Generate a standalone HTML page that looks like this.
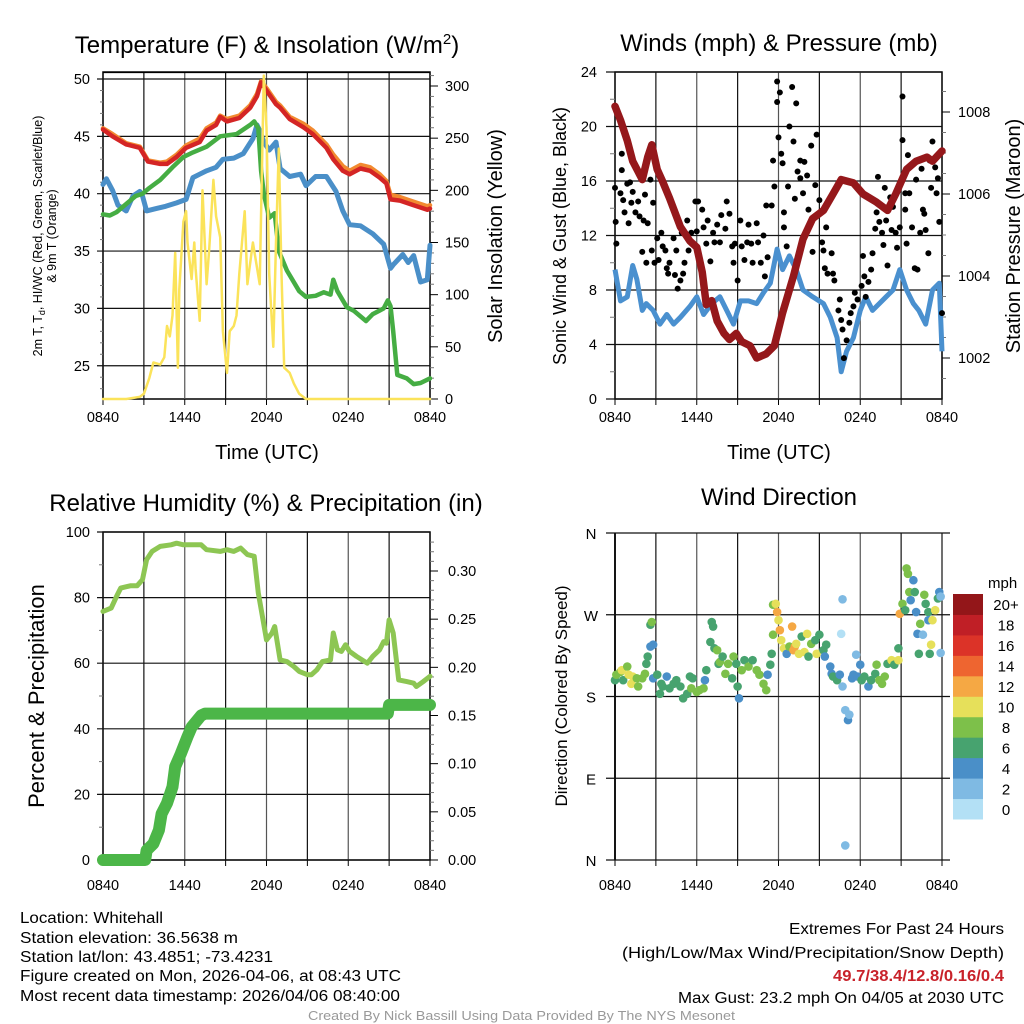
<!DOCTYPE html>
<html><head><meta charset="utf-8"><style>
html,body{margin:0;padding:0;background:#fff;}
svg{display:block;font-family:"Liberation Sans",sans-serif;}
</style></head><body>
<svg id="root" width="1024" height="1024" viewBox="0 0 1024 1024">
<rect width="1024" height="1024" fill="#fff"/>
<g id="p1"></g>
<g id="p2"></g>
<g id="p3"></g>
<g id="p4"></g>
<text x="267" y="53" font-size="24" text-anchor="middle">Temperature (F) &amp; Insolation (W/m<tspan font-size="15" dy="-9">2</tspan><tspan dy="9">)</tspan></text>
<text x="779" y="51" font-size="24" text-anchor="middle">Winds (mph) &amp; Pressure (mb)</text>
<text x="266" y="511" font-size="24" text-anchor="middle">Relative Humidity (%) &amp; Precipitation (in)</text>
<text x="779" y="505" font-size="24" text-anchor="middle">Wind Direction</text>
<text transform="translate(42,236) rotate(-90)" font-size="12.5" text-anchor="middle">2m T, T<tspan font-size="9" dy="3">d</tspan><tspan dy="-3">, HI/WC (Red, Green, Scarlet/Blue)</tspan></text>
<text transform="translate(56,236) rotate(-90)" font-size="12.5" text-anchor="middle">&amp; 9m T (Orange)</text>
<text transform="translate(502,236) rotate(-90)" font-size="20" text-anchor="middle">Solar Insolation (Yellow)</text>
<text x="267" y="459" font-size="20" text-anchor="middle">Time (UTC)</text>
<text transform="translate(566,236) rotate(-90)" font-size="18" text-anchor="middle">Sonic Wind &amp; Gust (Blue, Black)</text>
<text transform="translate(1020,236) rotate(-90)" font-size="20" text-anchor="middle">Station Pressure (Maroon)</text>
<text x="779" y="459" font-size="20" text-anchor="middle">Time (UTC)</text>
<text transform="translate(44,696) rotate(-90)" font-size="22" text-anchor="middle">Percent &amp; Precipitation</text>
<text transform="translate(567,696) rotate(-90)" font-size="17" text-anchor="middle">Direction (Colored By Speed)</text>
<text x="988" y="588" font-size="15" text-anchor="start">mph</text>
<g font-size="15.5">
<text x="20" y="923" textLength="143" lengthAdjust="spacingAndGlyphs">Location: Whitehall</text>
<text x="20" y="943" textLength="218" lengthAdjust="spacingAndGlyphs">Station elevation: 36.5638 m</text>
<text x="20" y="962" textLength="253" lengthAdjust="spacingAndGlyphs">Station lat/lon: 43.4851; -73.4231</text>
<text x="20" y="981" textLength="381" lengthAdjust="spacingAndGlyphs">Figure created on Mon, 2026-04-06, at 08:43 UTC</text>
<text x="20" y="1001" textLength="380" lengthAdjust="spacingAndGlyphs">Most recent data timestamp: 2026/04/06 08:40:00</text>
</g>
<g font-size="15.5">
<text x="789" y="934" textLength="215" lengthAdjust="spacingAndGlyphs">Extremes For Past 24 Hours</text>
<text x="622" y="958" textLength="382" lengthAdjust="spacingAndGlyphs">(High/Low/Max Wind/Precipitation/Snow Depth)</text>
<text x="833" y="981" textLength="171" lengthAdjust="spacingAndGlyphs" font-weight="bold" fill="#c8222a">49.7/38.4/12.8/0.16/0.4</text>
<text x="678" y="1003" textLength="326" lengthAdjust="spacingAndGlyphs">Max Gust: 23.2 mph On 04/05 at 2030 UTC</text>
</g>
<text x="308" y="1020" font-size="13" fill="#999" textLength="427" lengthAdjust="spacingAndGlyphs">Created By Nick Bassill Using Data Provided By The NYS Mesonet</text>
</svg>
<script>
// ---------- data ----------
const timeTicks = ["0840","1440","2040","0240","0840"];
const tempTicks = [25,30,35,40,45,50];
const insolTicks = [0,50,100,150,200,250,300];
const windTicks = [0,4,8,12,16,20,24];
const presTicks = [1002,1004,1006,1008];
const rhTicks = [0,20,40,60,80,100];
const precipTicks = [0,0.05,0.10,0.15,0.20,0.25,0.30];
const dirTicks = ["N","E","S","W","N"];
const dirTickVals = [0,90,180,270,360];
const speedBins = ["0","2","4","6","8","10","12","14","16","18","20+"];

const tempHours = [0,0.7,1.7,2.7,3.3,4.2,4.7,5.4,6.1,7.1,7.6,8.3,8.6,9.1,10,10.8,11.3,11.6,12,12.7,13,13.7,14.7,15.4,16.4,16.9,17.6,18.1,18.9,19.6,20.3,20.8,21.1,21.8,22.8,23.8,24];
const tempRed = [45.6,45.0,44.3,44.0,42.8,42.6,42.6,43.2,44.0,44.5,45.5,46.0,46.7,46.3,46.6,47.5,48.5,49.7,49.0,47.8,47.5,46.5,45.8,45.2,44.0,43.0,42.0,41.7,42.2,42.0,41.4,40.9,39.5,39.4,39.0,38.6,38.7];
const tempOrange = [45.7,45.2,44.4,44.1,42.9,42.7,42.8,43.4,44.2,44.8,45.7,46.2,46.8,46.5,46.8,47.7,48.7,49.8,49.2,48.0,47.7,46.7,46.1,45.5,44.3,43.4,42.4,42.0,42.5,42.3,41.7,41.1,39.9,39.7,39.3,38.9,39.0];
const dewHours = [0,0.5,1,2.4,2.9,3.4,4.2,5.1,5.9,6.6,7.6,8.6,9.8,10.8,11.1,11.4,11.6,11.8,12.2,12.6,12.9,13.5,14.4,14.9,15.6,16.2,16.7,16.9,17.2,17.9,18.4,18.9,19.3,19.8,20.6,20.9,21.1,21.3,21.6,22.3,22.8,23.3,24];
const dewGreen = [38.2,38.1,38.4,39.8,40.0,40.5,41.2,42.3,43.2,43.6,44.1,45.0,45.2,46.0,46.3,45.7,42.0,40.0,37.9,38.3,35.0,33.3,31.5,31.0,31.1,31.4,31.2,32.5,31.5,30.1,29.8,29.3,28.9,29.5,30.0,30.7,30.2,28.0,24.2,23.9,23.4,23.5,23.9];
const chillHours = [0,0.25,0.7,1.1,1.7,2.2,2.7,2.9,3.2,3.9,4.6,5.4,6.1,6.6,7.1,7.6,8.3,8.8,9.6,10.3,11,11.3,11.5,11.8,12.2,12.7,13,13.7,14.5,14.9,15.6,16.4,17.1,17.6,18.1,18.9,19.8,20.6,21.1,21.3,22,22.4,22.8,23.3,23.8,24];
const chillBlue = [40.8,41.3,40.3,39.0,38.5,39.8,40.2,39.8,38.5,38.7,38.9,39.2,39.5,41.4,41.7,42.0,42.3,43.0,43.1,43.5,44.8,46.0,45.5,44.5,43.8,44.5,42.2,41.5,41.7,40.7,41.5,41.5,40.2,38.5,37.3,37.2,36.5,35.6,33.5,33.8,34.7,34.0,34.6,32.3,32.5,35.5];
const insolHours = [0,1.7,2.7,3,3.4,3.7,4.2,4.5,4.7,4.9,5.1,5.3,5.5,5.6,5.9,6.1,6.2,6.5,6.7,6.8,7.1,7.3,7.6,7.8,8.1,8.3,8.6,8.8,9.1,9.3,9.6,9.8,10,10.4,10.6,11,11.5,11.8,12,12.2,12.5,12.7,12.9,13.1,13.3,13.7,14,14.4,14.9,24];
const insolYellow = [0,0,2,5,20,35,33,40,70,60,80,140,30,105,170,180,150,115,150,125,75,200,110,145,210,175,155,65,25,65,70,80,120,180,110,150,110,310,260,120,50,150,240,120,30,25,15,5,0,0];

const windHours = [0,0.4,0.9,1.3,1.6,2,2.3,2.8,3.3,3.8,4.3,4.8,5.5,6,6.5,7.1,7.7,8.2,8.7,9.2,9.8,10.4,10.9,11.4,11.9,12.3,12.8,13.3,13.8,14.5,15.3,15.8,16.3,16.6,17,17.5,18,18.4,18.9,19.4,19.9,20.4,20.9,21.4,21.9,22.3,22.8,23.3,23.8,24];
const windBlue = [9.5,7.2,7.5,9.8,8.8,6.5,7.0,6.5,5.5,6.2,5.5,6.0,6.8,7.5,6.2,7.0,7.5,6.5,5.5,7.2,7.2,7.0,7.8,8.5,11.0,9.5,10.5,9.5,8.0,7.5,7.0,6.0,4.5,2.0,3.5,4.5,6.5,7.5,6.5,7.0,7.5,8.0,9.5,8.0,7.0,6.5,5.5,8.0,8.5,3.5];
const presHours = [0,0.4,0.9,1.3,2,2.4,2.7,3.1,3.5,4,4.8,5.5,6,6.4,6.7,7.1,7.5,8,8.4,8.9,9.3,9.9,10.4,11.1,11.7,12.3,13.1,13.8,14.5,15.3,16,16.6,17.5,18.2,19.2,20,20.6,21.4,22.1,22.9,23.3,24];
const presMaroon = [1008.14,1007.8,1007.3,1006.8,1006.35,1006.9,1007.2,1006.6,1006.3,1005.9,1005.2,1004.85,1004.7,1004.1,1003.3,1003.4,1002.9,1002.6,1002.45,1002.6,1002.4,1002.3,1002.0,1002.1,1002.3,1003.1,1004.0,1004.9,1005.4,1005.6,1006.0,1006.35,1006.27,1006.0,1005.8,1005.6,1006.0,1006.6,1006.8,1006.9,1006.8,1007.05];
const gustHours = [0,0.05,0.1,0.4,0.5,0.5,0.6,0.7,0.9,1,1.1,1.2,1.3,1.5,1.7,1.8,2,2.1,2.2,2.3,2.4,2.6,2.7,2.8,2.9,3.1,3.2,3.4,3.5,3.7,3.8,3.9,4,4.3,4.4,4.5,4.6,4.8,4.9,5,5.1,5.3,5.4,5.6,5.9,6,6.1,6.4,6.5,6.7,6.8,7,7.2,7.3,7.5,7.7,7.8,8.1,8.2,8.4,8.6,8.7,8.8,9,9.2,9.3,9.5,9.7,9.8,10,10.1,10.4,10.5,10.7,10.9,11,11.1,11.2,11.5,11.6,11.7,11.9,11.9,12,12.1,12.2,12.3,12.4,12.4,12.6,12.7,12.8,13,13.1,13.2,13.3,13.4,13.6,13.6,13.8,13.9,14.1,14.2,14.4,14.5,14.7,14.8,15,15.2,15.3,15.4,15.5,15.6,15.9,16,16.1,16.4,16.5,16.6,16.7,16.8,17,17.2,17.3,17.5,17.6,17.8,18.1,18.2,18.3,18.4,18.6,18.8,18.9,19.1,19.2,19.3,19.4,19.6,19.7,19.8,19.9,20,20.2,20.3,20.4,20.6,20.7,20.9,21.1,21.1,21.3,21.3,21.4,21.5,21.6,21.8,22,22.1,22.2,22.4,22.5,22.6,22.7,22.8,23,23.1,23.2,23.3,23.5,23.6,23.7,23.8,24];
const gustBlack = [15.5,13,11.4,15.1,18,16.8,14.6,13.7,15.8,12.9,15.9,14.4,15.2,13.7,14.5,13.4,10.8,13.1,15,10,12.9,16.1,10.9,14.4,10,11.8,10.2,12.2,11.2,10.9,9.6,9.2,10,11.8,9.1,10.9,8.1,8.7,12.2,9.2,10,13.1,10.9,12.2,14.5,12.3,14.5,13.9,12.6,11.4,13.1,10.1,12.2,11.5,12.8,11.5,13.5,12.5,14.5,13.6,11.2,10,11.4,8.7,13.1,11.2,10.2,11.5,12.8,11.4,10,12.9,11.5,10,12,9,14.2,10.4,14.2,17.5,15.6,23.3,21.8,19.2,22.5,18,17.3,13.7,12.6,11.2,15.6,20,22.9,18.9,14.7,21.7,16.7,16.2,17.5,15.1,17.4,16.4,13.9,18.6,10.8,15.7,19.4,14.6,11.5,10.9,9.6,12.6,9.2,10.7,9.2,8.7,6.5,7.3,5.8,5.1,3,4.3,5.6,6.3,6.8,7.8,7.3,8.3,10.5,9,7.5,8.6,9.5,10.7,12.5,13.7,16.3,13,12.2,11.3,15.5,13.1,9.8,14.8,12.4,14.1,12.2,11.1,12.6,19,22.2,15.1,13.9,11.4,17.9,15.1,12.6,9.6,16.1,9.5,12.2,16.9,13.9,13.6,12.4,10.7,17.5,15.5,18.9,17,15.1,16.2,13,6.3];

const rhHours = [0,0.6,1,1.3,2,2.5,2.9,3.2,3.6,4.2,5,5.4,5.9,6.7,7.2,7.6,8.6,9.1,9.6,10.1,10.6,11.1,11.4,11.7,12,12.4,12.6,13,13.5,14,14.4,15,15.3,15.7,16.1,16.7,16.9,17.2,17.5,17.8,18.1,18.6,19.4,19.8,20.3,20.6,20.8,21,21.3,21.7,22.3,22.8,23,23.5,24];
const rhGreen = [75.8,76.8,80.4,82.9,83.6,83.6,85.5,91.6,94.1,95.6,96.1,96.6,96.1,96.1,96.1,94.6,94.1,94.6,94.1,95.1,93.1,92.6,81.4,74.3,67.1,69.2,71.2,61.0,60.5,59.0,57.5,56.5,56.5,58.0,60.5,61.0,69.2,64.1,63.6,65.6,63.6,62.1,60.0,62.1,64.1,66.6,66.1,73.2,69.2,54.9,54.4,53.9,52.9,54.4,56.0];
const precipHours = [0,3.1,3.2,3.7,4.1,4.3,4.7,5.1,5.3,5.7,6.2,6.5,7.2,7.5,20.9,21.0,24];
const precipInches = [0,0,0.01,0.017,0.031,0.048,0.059,0.076,0.097,0.11,0.128,0.138,0.15,0.152,0.152,0.161,0.161];

const dirHours = [0,0.1,0.4,0.5,0.6,0.9,1,1.2,1.3,1.6,1.7,2,2.2,2.3,2.4,2.6,2.8,2.6,2.7,2.8,3.1,3.3,3.4,3.5,3.8,4,4.3,4.5,4.8,5,5.3,5.5,5.6,5.7,6,6.2,6.5,6.6,6.7,7,7.1,7.2,7.3,7.5,7.6,7.7,7.9,8.1,8.3,8.6,8.7,8.9,9,9.1,9.3,9.5,9.8,10.1,10.4,10.6,10.9,11.1,11.2,11.4,11.5,11.6,11.6,11.8,11.9,12,12.1,12.2,12.4,12.6,12.8,13,13.1,13.2,13.3,13.5,13.7,13.9,14.1,14.2,14.4,14.7,14.8,15,15.3,15.4,15.5,15.8,15.9,16,16.3,16.5,16.6,16.7,16.7,16.9,16.9,17.1,17.2,17.4,17.5,17.7,17.8,18,18.1,18.3,18.6,18.8,19.1,19.2,19.4,19.6,19.8,20,20.3,20.5,20.8,20.8,20.9,21.1,21.3,21.4,21.5,21.6,21.7,21.9,22,22.1,22.2,22.3,22.4,22.6,22.7,22.8,23,23,23.1,23.2,23.3,23.5,23.7,23.8,23.9,23.9];
const dirDegrees = [198,204,207,209,198,213,204,194,202,200,191,200,205,216,224,235,237,259,262,200,204,183,194,191,202,189,194,198,191,178,183,202,189,200,185,187,189,198,209,240,262,257,233,231,216,218,224,205,216,200,224,216,191,178,209,220,213,220,209,204,194,187,204,215,227,248,281,282,273,264,253,242,233,227,235,257,231,235,238,227,246,229,249,224,238,242,227,248,231,224,237,213,205,202,198,204,249,287,191,16,165,154,160,200,204,226,202,215,198,202,191,198,205,215,198,194,202,216,220,215,220,233,271,282,275,321,315,295,286,308,295,273,249,227,260,248,292,282,273,264,227,237,264,275,288,295,290,228];
const dirSpeeds = [7,8,8,10,6,8,10,10,10,8,8,8,8,6,6,4,4,6,8,4,6,6,6,6,4,6,6,6,6,6,6,6,8,6,8,8,8,4,6,6,6,6,6,8,6,8,6,8,8,6,8,6,6,4,8,6,8,6,8,8,8,8,4,6,6,8,8,10,13,10,12,10,10,4,8,12,12,12,10,10,6,10,10,6,8,6,10,6,6,4,6,4,4,6,6,4,1,2,2,2,2,4,2,4,4,2,4,4,6,6,4,6,6,8,8,8,8,6,10,6,10,6,13,8,6,8,8,8,4,4,6,4,4,6,8,2,8,6,6,4,6,10,10,10,6,4,2];

// ---------- helpers ----------
const NS = "http://www.w3.org/2000/svg";
function el(parent, tag, attrs){ const e=document.createElementNS(NS,tag); for(const k in attrs) e.setAttribute(k,attrs[k]); parent.appendChild(e); return e; }
function txt(parent, x, y, s, size, anchor){ const t=el(parent,"text",{x:x,y:y,"font-size":size,"text-anchor":anchor||"middle"}); t.textContent=s; return t; }
function pathFrom(xs, ys, fx, fy){ let d=""; const n=Math.min(xs.length,ys.length); for(let i=0;i<n;i++){ d+=(i?"L":"M")+fx(xs[i]).toFixed(1)+","+fy(ys[i]).toFixed(1);} return d; }
function hx(x0,x1){ return h => x0 + h/24*(x1-x0); }

function timeAxis(g, X, top, bottom, labelY){
  for(let h=0; h<=24; h+=3){
    const l=el(g,"line",{x1:X(h),x2:X(h),y1:top,y2:bottom,stroke:(h%6===0&&h>0&&h<24)?"#555":"#111","stroke-width":1.2});
    
    
    const tk=el(g,"line",{x1:X(h),x2:X(h),y1:bottom,y2:bottom+6,stroke:"#000","stroke-width":1});
    
    
  }
  timeTicks.forEach((s,i)=>{
    const t=txt(g,X(i*6),labelY,s,14.5);
    
    
  });
}

// ---------- Panel 1 ----------
(function(){
  const g=document.getElementById("p1");
  const X=hx(103,430), top=72, bot=399;
  const YT=v=>79+(50-v)*11.47, YI=v=>399-v*313/300;
  el(g,"rect",{x:103,y:top,width:327,height:bot-top,fill:"none",stroke:"#000","stroke-width":1.5});
  timeAxis(g,X,top,bot,422);
  el(g,"line",{x1:103,x2:430,y1:top+0.5,y2:top+0.5,stroke:"#000","stroke-width":1.2});
  tempTicks.forEach(v=>{
    const l=el(g,"line",{x1:97,x2:430,y1:YT(v),y2:YT(v),stroke:"#111","stroke-width":1.2});
    
    
    const t=txt(g,90,YT(v)+5,String(v),14.5,"end");
    
    
  });
  for(let v=23; v<=50; v++){ if(v%5) el(g,"line",{x1:100,x2:103,y1:YT(v),y2:YT(v),stroke:"#777","stroke-width":1}); }
  insolTicks.forEach(v=>{
    el(g,"line",{x1:430,x2:438,y1:YI(v),y2:YI(v),stroke:"#000","stroke-width":1});
    const t=txt(g,445,YI(v)+5,String(v),14.5,"start");
    
    
  });
  for(let v=10; v<=310; v+=10){ if(v%50) el(g,"line",{x1:430,x2:434,y1:YI(v),y2:YI(v),stroke:"#777","stroke-width":1}); }
  const s=[
    [chillHours,chillBlue,"#4a8fc8",5,YT,"wind-chill-line"],
    [dewHours,dewGreen,"#45ad43",4.5,YT,"dewpoint-line"],
    [tempHours,tempOrange,"#f28a30",4.5,YT,"9m-temperature-line"],
    [tempHours,tempRed,"#d42525",4.5,YT,"2m-temperature-line"],
    [insolHours,insolYellow,"#fbe35a",2.5,YI,"insolation-line"]
  ];
  s.forEach(a=>{
    const p=el(g,"path",{d:pathFrom(a[0],a[1],X,a[4]),fill:"none",stroke:a[2],"stroke-width":a[3],"stroke-linejoin":"round","stroke-linecap":"round"});
    
    
  });
})();

// ---------- Panel 2 ----------
(function(){
  const g=document.getElementById("p2");
  const X=hx(615,942), top=72, bot=399;
  const YW=v=>399-v*327/24, YP=p=>112+(1008-p)*41;
  el(g,"rect",{x:615,y:top,width:327,height:bot-top,fill:"none",stroke:"#000","stroke-width":1.5});
  timeAxis(g,X,top,bot,422);
  windTicks.forEach(v=>{
    const l=el(g,"line",{x1:606,x2:942,y1:YW(v),y2:YW(v),stroke:"#111","stroke-width":1.2});
    
    
    const t=txt(g,597,YW(v)+5,String(v),14.5,"end");
    
    
  });
  for(let v=2; v<24; v+=4) el(g,"line",{x1:610,x2:615,y1:YW(v),y2:YW(v),stroke:"#777","stroke-width":1});
  presTicks.forEach(v=>{
    el(g,"line",{x1:942,x2:950,y1:YP(v),y2:YP(v),stroke:"#000","stroke-width":1});
    const t=txt(g,958,YP(v)+5,String(v),14.5,"start");
    
    
  });
  for(let v=1001.5; v<1009; v+=0.5){ if(v%2) el(g,"line",{x1:942,x2:946,y1:YP(v),y2:YP(v),stroke:"#777","stroke-width":1}); }
  const b=el(g,"path",{d:pathFrom(windHours,windBlue,X,YW),fill:"none",stroke:"#4a90cf","stroke-width":5,"stroke-linejoin":"round"});
  
  
  gustHours.forEach((h,i)=>{
    const c=el(g,"circle",{cx:X(h),cy:YW(gustBlack[i]),r:3,fill:"#000"});
    
    
  });
  const p=el(g,"path",{d:pathFrom(presHours,presMaroon,X,YP),fill:"none",stroke:"#95181b","stroke-width":7.5,"stroke-linejoin":"round","stroke-linecap":"round"});
  
  
})();

// ---------- Panel 3 ----------
(function(){
  const g=document.getElementById("p3");
  const X=hx(103,430), top=532, bot=860;
  const YR=v=>860-v*3.28, YPr=v=>860-v*289/0.3;
  el(g,"rect",{x:103,y:top,width:327,height:bot-top,fill:"none",stroke:"#000","stroke-width":1.5});
  timeAxis(g,X,top,bot,890);
  rhTicks.forEach(v=>{
    const l=el(g,"line",{x1:97,x2:430,y1:YR(v),y2:YR(v),stroke:"#111","stroke-width":1.2});
    
    
    const t=txt(g,90,YR(v)+5,String(v),14.5,"end");
    
    
  });
  for(let v=10; v<100; v+=20) el(g,"line",{x1:99,x2:103,y1:YR(v),y2:YR(v),stroke:"#777","stroke-width":1});
  precipTicks.forEach(v=>{
    el(g,"line",{x1:430,x2:438,y1:YPr(v),y2:YPr(v),stroke:"#000","stroke-width":1});
    const t=txt(g,448,YPr(v)+5,v.toFixed(2),14.5,"start");
    
    
  });
  for(let v=0.01; v<0.34; v+=0.01){ if(Math.round(v*100)%5) el(g,"line",{x1:430,x2:434,y1:YPr(v),y2:YPr(v),stroke:"#777","stroke-width":1}); }
  const r=el(g,"path",{d:pathFrom(rhHours,rhGreen,X,YR),fill:"none",stroke:"#8dc653","stroke-width":5,"stroke-linejoin":"round","stroke-linecap":"round"});
  
  
  const p=el(g,"path",{d:pathFrom(precipHours,precipInches,X,YPr),fill:"none",stroke:"#4cb648","stroke-width":12,"stroke-linejoin":"round","stroke-linecap":"round"});
  
  
})();

// ---------- Panel 4 ----------
(function(){
  const g=document.getElementById("p4");
  const X=hx(615,942), top=533, bot=860;
  const YD=d=>860-d*327/360;
  const colors=["#b3e0f5","#7fbae3","#4a8fc8","#47a36f","#7dc04a","#e6e05a","#f5a844","#ee6530","#dc3328","#c01f26","#931619"];
  timeAxis(g,X,top,bot,890);
  el(g,"line",{x1:615,x2:615,y1:top,y2:bot,stroke:"#000","stroke-width":1.8});
  dirTickVals.forEach((v,i)=>{
    const l=el(g,"line",{x1:606,x2:950,y1:YD(v),y2:YD(v),stroke:"#111","stroke-width":1.2});
    
    
    const t=txt(g,591,YD(v)+6,dirTicks[i],15);
    
    
  });
  dirHours.forEach((h,i)=>{
    const sp = dirSpeeds[i] === undefined ? 2 : dirSpeeds[i];
    const bin=Math.min(10,Math.floor(sp/2));
    const c=el(g,"circle",{cx:X(h),cy:YD(dirDegrees[i]),r:4.3,fill:colors[bin]});
    
    
  });
  const cb=el(g,"g",{});
  
  
  const h=225/11;
  speedBins.forEach((s,i)=>{
    const y=594+(10-i)*h;
    const r=el(cb,"rect",{x:953,y:y,width:30,height:h+0.5,fill:colors[i]});
    
    
    const t=txt(cb,1006,y+h/2+6,s,15);
    
    
  });
})();
</script>
</body></html>
